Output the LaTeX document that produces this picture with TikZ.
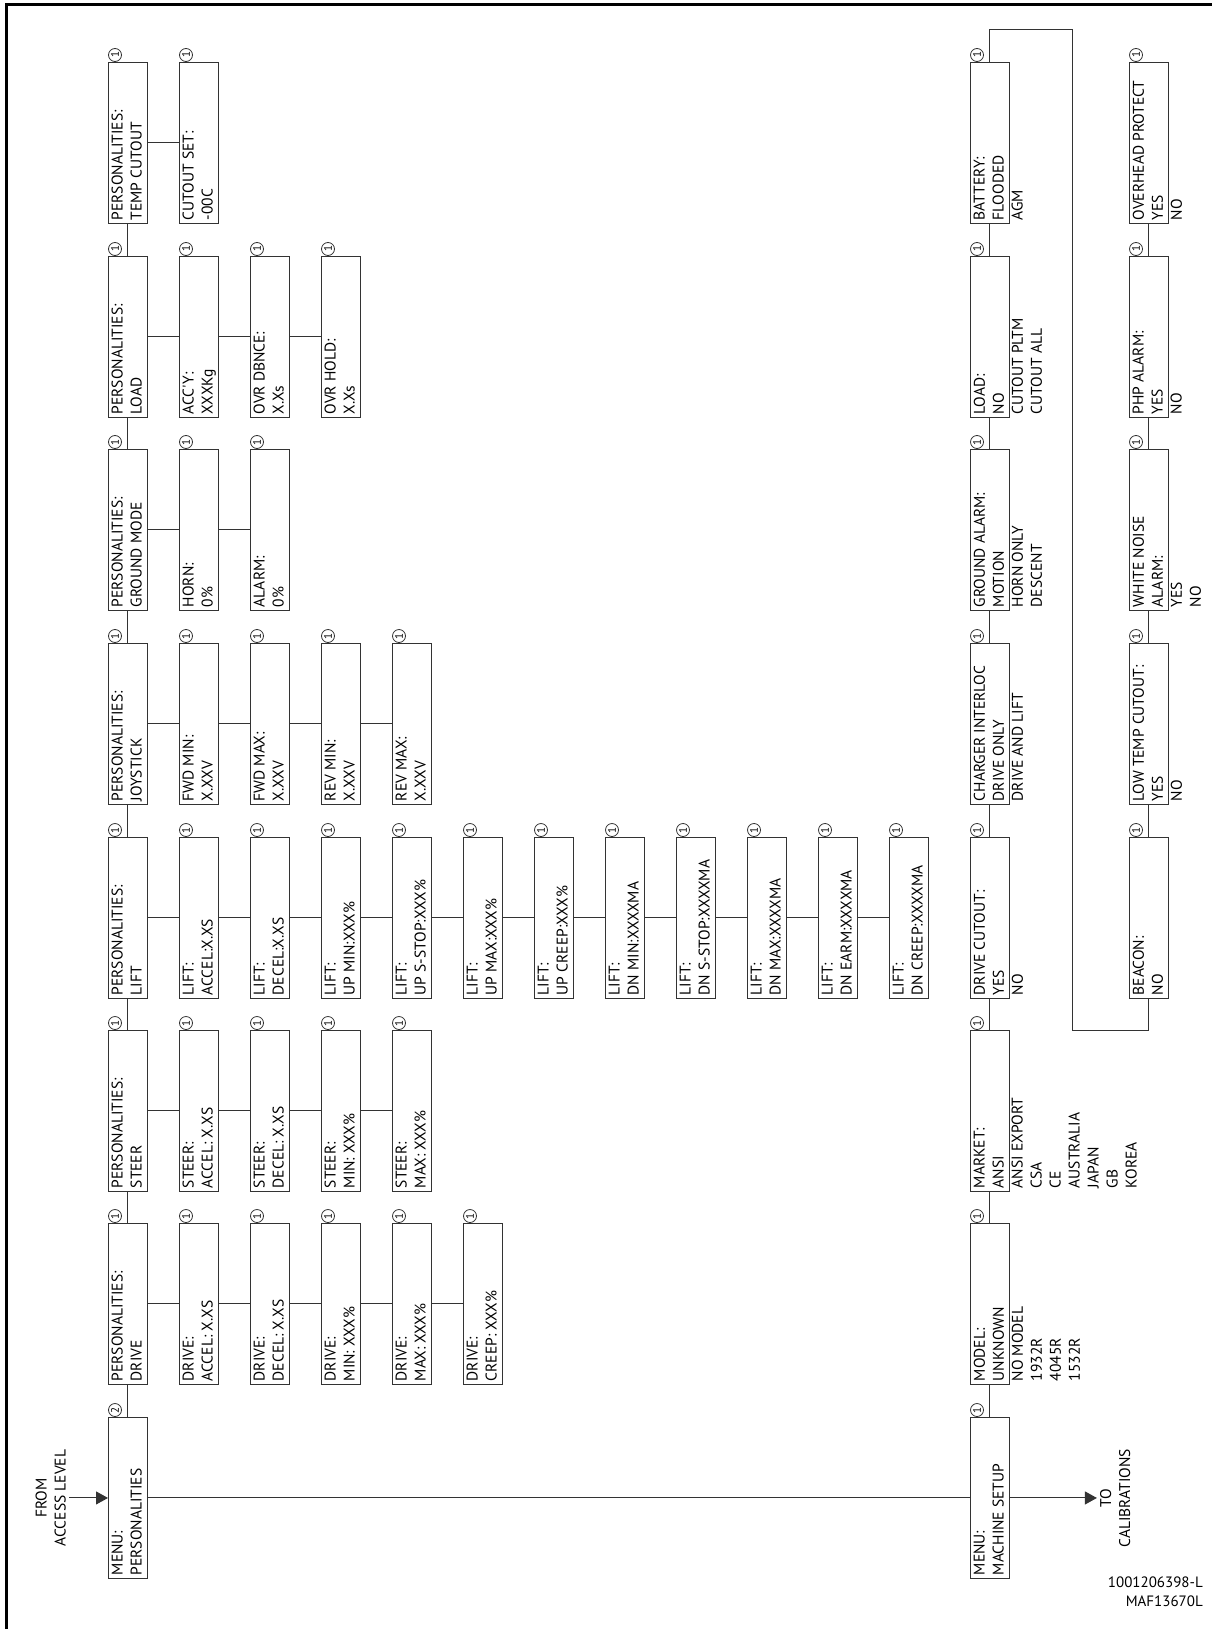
\documentclass[tikz,border=0pt]{standalone}
\usepackage{fontspec}
\usepackage{tikz}
\usetikzlibrary{calc,arrows.meta,positioning}
\newfontfamily\diagfont{PT Sans}
\colorlet{lineC}{black!80}

% one menu screen: name, x, y (top), circled number, text
\newcommand{\menubox}[5]{%
  \node[mbox] (#1) at (#2,#3) {};
  \node[mtext] (#1-t) at (#1.south west) {#5};
  \node[mnum] (#1-n) at ($(#1.north west)+(7,-7)$) {#4};
}

\begin{document}
\begin{tikzpicture}[x=1pt,y=-1pt,
    mbox/.style={draw=lineC, line width=0.9pt, anchor=north west,
      minimum width=39pt, minimum height=161pt, inner sep=0pt},
    mtext/.style={rotate=90, anchor=north west, align=left, inner sep=3.5pt,
      font=\diagfont\fontsize{15.5}{19}\selectfont},
    mnum/.style={draw=lineC, circle, line width=0.8pt, inner sep=0pt,
      minimum size=13pt, rotate=90, font=\diagfont\fontsize{11}{11}\selectfont},
    link/.style={draw=lineC, line width=1pt},
    arr/.style={link, -{Triangle[length=12pt,width=13pt]}},
    side/.style={rotate=90, align=center, inner sep=3pt,
      font=\diagfont\fontsize{15.5}{19}\selectfont}]
  \useasboundingbox (0,0) rectangle (1212,1629);
  % page frame (left and top only)
  \draw[line width=3pt] (6.5,1629) -- (6.5,4.5) -- (1212,4.5);

  % Personalities column
  \menubox{menuP}{108}{1417}{2}{MENU:\\PERSONALITIES}
  \menubox{pDrive}{108}{1223}{1}{PERSONALITIES:\\DRIVE}
  \menubox{pSteer}{108}{1030}{1}{PERSONALITIES:\\STEER}
  \menubox{pLift}{108}{837}{1}{PERSONALITIES:\\LIFT}
  \menubox{pJoy}{108}{643}{1}{PERSONALITIES:\\JOYSTICK}
  \menubox{pGround}{108}{449}{1}{PERSONALITIES:\\GROUND MODE}
  \menubox{pLoad}{108}{256}{1}{PERSONALITIES:\\LOAD}
  \menubox{pTemp}{108}{62}{1}{PERSONALITIES:\\TEMP CUTOUT}

  % Drive
  \menubox{dAccel}{179}{1223}{1}{DRIVE:\\ACCEL: X.XS}
  \menubox{dDecel}{250}{1223}{1}{DRIVE:\\DECEL: X.XS}
  \menubox{dMin}{321}{1223}{1}{DRIVE:\\MIN: XXX\%}
  \menubox{dMax}{392}{1223}{1}{DRIVE:\\MAX: XXX\%}
  \menubox{dCreep}{463}{1223}{1}{DRIVE:\\CREEP: XXX\%}

  % Steer
  \menubox{sAccel}{179}{1030}{1}{STEER:\\ACCEL: X.XS}
  \menubox{sDecel}{250}{1030}{1}{STEER:\\DECEL: X.XS}
  \menubox{sMin}{321}{1030}{1}{STEER:\\MIN: XXX\%}
  \menubox{sMax}{392}{1030}{1}{STEER:\\MAX: XXX\%}

  % Lift
  \menubox{lAccel}{179}{837}{1}{LIFT:\\ACCEL:X.XS}
  \menubox{lDecel}{250}{837}{1}{LIFT:\\DECEL:X.XS}
  \menubox{lUpMin}{321}{837}{1}{LIFT:\\UP MIN:XXX\%}
  \menubox{lUpStop}{392}{837}{1}{LIFT:\\UP S-STOP:XXX\%}
  \menubox{lUpMax}{463}{837}{1}{LIFT:\\UP MAX:XXX\%}
  \menubox{lUpCreep}{534}{837}{1}{LIFT:\\UP CREEP:XXX\%}
  \menubox{lDnMin}{605}{837}{1}{LIFT:\\DN MIN:XXXXMA}
  \menubox{lDnStop}{676}{837}{1}{LIFT:\\DN S-STOP:XXXXMA}
  \menubox{lDnMax}{747}{837}{1}{LIFT:\\DN MAX:XXXXMA}
  \menubox{lDnEarm}{818}{837}{1}{LIFT:\\DN EARM:XXXXMA}
  \menubox{lDnCreep}{889}{837}{1}{LIFT:\\DN CREEP:XXXXMA}

  % Joystick
  \menubox{jFwdMin}{179}{643}{1}{FWD MIN:\\X.XXV}
  \menubox{jFwdMax}{250}{643}{1}{FWD MAX:\\X.XXV}
  \menubox{jRevMin}{321}{643}{1}{REV MIN:\\X.XXV}
  \menubox{jRevMax}{392}{643}{1}{REV MAX:\\X.XXV}

  % Ground mode
  \menubox{gHorn}{179}{449}{1}{HORN:\\0\%}
  \menubox{gAlarm}{250}{449}{1}{ALARM:\\0\%}

  % Load
  \menubox{oAccy}{179}{256}{1}{ACC'Y:\\XXXKg}
  \menubox{oDbnce}{250}{256}{1}{OVR DBNCE:\\X.Xs}
  \menubox{oHold}{321}{256}{1}{OVR HOLD:\\X.Xs}

  % Temp cutout
  \menubox{tSet}{179}{62}{1}{CUTOUT SET:\\-00C}

  % Machine setup columns
  \menubox{menuM}{970}{1417}{1}{MENU:\\MACHINE SETUP}
  \menubox{mModel}{970}{1223}{1}{MODEL:\\UNKNOWN\\NO MODEL\\1932R\\4045R\\1532R}
  \menubox{mMarket}{970}{1030}{1}{MARKET:\\ANSI\\ANSI EXPORT\\CSA\\CE\\AUSTRALIA\\JAPAN\\GB\\KOREA}
  \menubox{mDrvCut}{970}{837}{1}{DRIVE CUTOUT:\\YES\\NO}
  \menubox{mCharger}{970}{643}{1}{CHARGER INTERLOC\\DRIVE ONLY\\DRIVE AND LIFT}
  \menubox{mGndAlarm}{970}{449}{1}{GROUND ALARM:\\MOTION\\HORN ONLY\\DESCENT}
  \menubox{mLoad}{970}{256}{1}{LOAD:\\NO\\CUTOUT PLTM\\CUTOUT ALL}
  \menubox{mBatt}{970}{62}{1}{BATTERY:\\FLOODED\\AGM}
  \menubox{mBeacon}{1129}{837}{1}{BEACON:\\NO}
  \menubox{mLowTemp}{1129}{643}{1}{LOW TEMP CUTOUT:\\YES\\NO}
  \menubox{mNoise}{1129}{449}{1}{WHITE NOISE\\ALARM:\\YES\\NO}
  \menubox{mPhp}{1129}{256}{1}{PHP ALARM:\\YES\\NO}
  \menubox{mOverhead}{1129}{62}{1}{OVERHEAD PROTECT\\YES\\NO}

  % Vertical spines
  \foreach \a/\b in {menuP/pDrive, pDrive/pSteer, pSteer/pLift, pLift/pJoy,
      pJoy/pGround, pGround/pLoad, pLoad/pTemp,
      menuM/mModel, mModel/mMarket, mMarket/mDrvCut, mDrvCut/mCharger,
      mCharger/mGndAlarm, mGndAlarm/mLoad, mLoad/mBatt,
      mBeacon/mLowTemp, mLowTemp/mNoise, mNoise/mPhp, mPhp/mOverhead}
    \draw[link] (\a.north) -- (\b.south);

  % Horizontal chains
  \foreach \a/\b in {pDrive/dAccel, dAccel/dDecel, dDecel/dMin, dMin/dMax, dMax/dCreep,
      pSteer/sAccel, sAccel/sDecel, sDecel/sMin, sMin/sMax,
      pLift/lAccel, lAccel/lDecel, lDecel/lUpMin, lUpMin/lUpStop, lUpStop/lUpMax,
      lUpMax/lUpCreep, lUpCreep/lDnMin, lDnMin/lDnStop, lDnStop/lDnMax,
      lDnMax/lDnEarm, lDnEarm/lDnCreep,
      pJoy/jFwdMin, jFwdMin/jFwdMax, jFwdMax/jRevMin, jRevMin/jRevMax,
      pGround/gHorn, gHorn/gAlarm,
      pLoad/oAccy, oAccy/oDbnce, oDbnce/oHold,
      pTemp/tSet, menuP/menuM}
    \draw[link] (\a.east) -- (\b.west);

  % Loop from battery round to beacon
  \coordinate (loopA) at (1072,30);
  \coordinate (loopB) at (1072,1030);
  \draw[link] (mBatt.north) |- (loopA) -- (loopB) -| (mBeacon.south);

  % Entry and exit
  \node[side, anchor=south] (access) at ($(menuP.west)+(-39,0)$) {FROM\\ACCESS LEVEL};
  \draw[arr] (access.south) -- (menuP.west);
  \node[side, anchor=north] (calib) at ($(menuM.east)+(87,0)$) {TO\\CALIBRATIONS};
  \draw[arr] (menuM.east) -- (calib.north);

  % Drawing number
  \node[anchor=north east, align=right, inner sep=0pt,
    font=\diagfont\fontsize{15}{19}\selectfont] (docno) at (1203,1577) {1001206398-L\\MAF13670L};
\end{tikzpicture}
\end{document}
